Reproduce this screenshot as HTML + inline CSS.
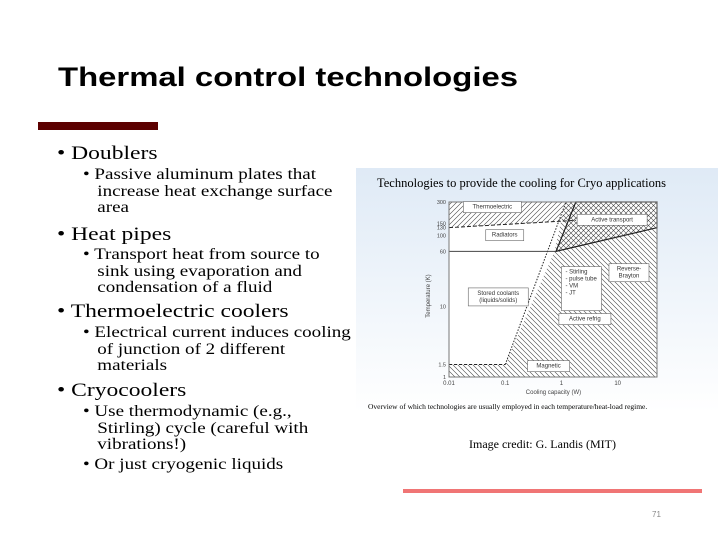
<!DOCTYPE html>
<html><head><meta charset="utf-8"><style>
body{margin:0;width:720px;height:540px;overflow:hidden;background:#fff;position:relative;font-family:"Liberation Serif",serif;}
.t{position:absolute;white-space:nowrap;color:#000;transform-origin:0 0;}
.b1{font-size:19px;left:57px;transform:scaleX(1.24);}
.b2{font-size:16px;left:83px;line-height:16.5px;transform:scaleX(1.19);}
.ind{padding-left:12px}
</style></head><body>
<svg width="720" height="540" style="position:absolute;left:0;top:0">
<text x="58" y="86" font-family="Liberation Sans, sans-serif" font-weight="bold" font-size="27" textLength="460" lengthAdjust="spacingAndGlyphs">Thermal control technologies</text>
<rect x="38" y="122" width="120" height="8" fill="#5c0000"/>
<rect x="403" y="489" width="299" height="4" fill="#f07575"/>
<text x="652" y="517" font-family="Liberation Sans, sans-serif" font-size="8" fill="#888">71</text>
<text x="469" y="448" font-family="Liberation Serif, serif" font-size="12">Image credit: G. Landis (MIT)</text>
</svg>
<div class="t b1" style="top:143px">• Doublers</div>
<div class="t b2" style="top:167px">• Passive aluminum plates that<br><span class="ind">increase heat exchange surface</span><br><span class="ind">area</span></div>
<div class="t b1" style="top:224px">• Heat pipes</div>
<div class="t b2" style="top:247px">• Transport heat from source to<br><span class="ind">sink using evaporation and</span><br><span class="ind">condensation of a fluid</span></div>
<div class="t b1" style="top:301px">• Thermoelectric coolers</div>
<div class="t b2" style="top:325px">• Electrical current induces cooling<br><span class="ind">of junction of 2 different</span><br><span class="ind">materials</span></div>
<div class="t b1" style="top:380px">• Cryocoolers</div>
<div class="t b2" style="top:404px">• Use thermodynamic (e.g.,<br><span class="ind">Stirling) cycle (careful with</span><br><span class="ind">vibrations!)</span></div>
<div class="t b2" style="top:457px">• Or just cryogenic liquids</div>

<svg id="chart" width="362" height="244" style="position:absolute;left:356px;top:168px">
<defs>
<linearGradient id="bg" x1="0" y1="0" x2="0" y2="1"><stop offset="0" stop-color="#dfeaf6"/><stop offset="1" stop-color="#ffffff"/></linearGradient>
<pattern id="hf" width="5" height="5" patternUnits="userSpaceOnUse"><path d="M0,5 L5,0 M-1,1 L1,-1 M4,6 L6,4" stroke="#444" stroke-width="0.6"/></pattern>
<pattern id="hb" width="5" height="5" patternUnits="userSpaceOnUse"><path d="M0,0 L5,5 M-1,4 L1,6 M4,-1 L6,1" stroke="#444" stroke-width="0.6"/></pattern>
</defs>
<rect width="362" height="244" fill="url(#bg)"/>
<text x="21" y="19" font-size="12.5" font-family="Liberation Serif, serif">Technologies to provide the cooling for Cryo applications</text>
<text x="12" y="241" font-size="7.5" font-family="Liberation Serif, serif">Overview of which technologies are usually employed in each temperature/heat-load regime.</text>
<g id="plot"></g>
</svg>
<script>
const xTicks=[0.01,0.1,1,10];
const xTickLabels=["0.01","0.1","1","10"];
const yTicks=[1,1.5,10,60,100,130,150,300];
const yTickLabels=["1","1.5","10","60","100","130","150","300"];
const xDomain=[0.01,50];
const yDomain=[1,300];
const thermoRegion=[[0.01,300],[1.8,300],[1.8,165],[0.01,130]];
const refrigRegion=[[0.01,1],[50,1],[50,300],[1.2,300],[1,170],[0.75,60],[0.1,1.5],[0.01,1.5]];
const transportRegion=[[0.8,60],[1.8,300],[50,300],[50,130]];
const labels=[["Thermoelectric",0.018,250,58],["Active transport",1.9,165,70],["Radiators",0.045,100,38],["Stored coolants",0.022,15,60],["Active refrig",0.9,6.5,52],["Magnetic",0.25,1.4,42],["Reverse-",7,33,40],["Stirling",1,30,40]];
const X0=93,X1=301,Y0=209,Y1=34;
const L=Math.log10;
function sx(v){return X0+(L(v)-L(xDomain[0]))/(L(xDomain[1])-L(xDomain[0]))*(X1-X0);}
function sy(v){return Y0-(L(v)-L(yDomain[0]))/(L(yDomain[1])-L(yDomain[0]))*(Y0-Y1);}
const g=document.getElementById('plot');const NS='http://www.w3.org/2000/svg';
function mk(t,a,p){const e=document.createElementNS(NS,t);for(const k in a)e.setAttribute(k,a[k]);(p||g).appendChild(e);return e;}
function pts(r){return r.map(p=>sx(p[0])+','+sy(p[1])).join(' ');}
const bgp=mk('rect',{x:X0,y:Y1,width:X1-X0,height:Y0-Y1,fill:'#fff'});


const r1=mk('polygon',{points:pts(refrigRegion),fill:'url(#hb)'});


const r2=mk('polygon',{points:pts(thermoRegion),fill:'url(#hf)'});


const r3=mk('polygon',{points:pts(transportRegion),fill:'url(#hf)',stroke:'#222','stroke-width':1.2});


mk('line',{x1:sx(0.01),y1:sy(130),x2:sx(1.8),y2:sy(165),stroke:'#222','stroke-dasharray':'4,2'});
mk('line',{x1:sx(0.1),y1:sy(1.5),x2:sx(1.2),y2:sy(300),stroke:'#222','stroke-dasharray':'1.5,1.5'});
mk('line',{x1:sx(0.01),y1:sy(1.5),x2:sx(0.1),y2:sy(1.5),stroke:'#222','stroke-dasharray':'3,2'});
const h=mk('line',{x1:sx(0.01),y1:sy(60),x2:sx(0.8),y2:sy(60),stroke:'#444','stroke-width':1});


mk('rect',{x:X0,y:Y1,width:X1-X0,height:Y0-Y1,fill:'none',stroke:'#777'});
xTicks.forEach((v,i)=>{const t=mk('text',{x:sx(v),y:Y0+8,'font-size':6,'text-anchor':'middle',fill:'#444','font-family':'Liberation Sans, sans-serif'});t.textContent=xTickLabels[i];

});
yTicks.forEach((v,i)=>{const t=mk('text',{x:X0-3,y:sy(v)+2,'font-size':5.5,'text-anchor':'end',fill:'#444','font-family':'Liberation Sans, sans-serif'});t.textContent=yTickLabels[i];

});
const xt=mk('text',{x:sx(1)-8,y:Y0+17,'font-size':6,'text-anchor':'middle',fill:'#444','font-family':'Liberation Sans, sans-serif'});xt.textContent='Cooling capacity (W)';


const yt=mk('text',{x:0,y:0,'font-size':6,'text-anchor':'middle',fill:'#444','font-family':'Liberation Sans, sans-serif',transform:`translate(${X0-19},${sy(14)}) rotate(-90)`});yt.textContent='Temperature (K)';


const extra={"Stored coolants":"(liquids/solids)","Reverse-":"Brayton","Stirling":"pulse tube|VM|JT"};
labels.forEach(l=>{const x=sx(l[1]),y=sy(l[2]);const lines=[l[0]].concat(extra[l[0]]?extra[l[0]].split('|'):[]);
const hh=lines.length>2?44:(lines.length*7+4);
const b=mk('rect',{x:x,y:y-6,width:l[3],height:hh,fill:'#fff',stroke:'#666','stroke-width':0.6});


lines.forEach((s,j)=>{const t=mk('text',{x:lines.length>2?x+4:x+l[3]/2,y:y+1+j*7,'font-size':6,'text-anchor':lines.length>2?'start':'middle',fill:'#333','font-family':'Liberation Sans, sans-serif'});t.textContent=(lines.length>2?'- ':'')+s;

});});
</script>
</body></html>
